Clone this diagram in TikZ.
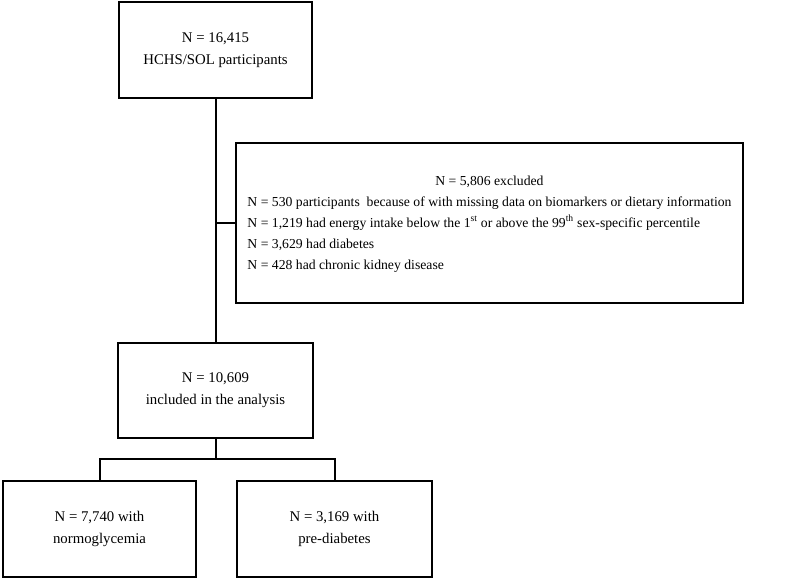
\documentclass[tikz,border=0pt]{standalone}
\usepackage{fontspec}
\setmainfont{Liberation Serif}
\begin{document}
\begin{tikzpicture}[x=1pt,y=-1pt,
  flowbox/.style={draw=black,line width=1.8pt,inner sep=0pt,align=center,
    font=\fontsize{14.8}{22}\selectfont},
  joinline/.style={draw=black,line width=2pt}]
\useasboundingbox (0,0) rectangle (800,587);
\node[flowbox,minimum width=193,minimum height=96] (top) at (215.5,50)
  {N = 16,415\\HCHS/SOL participants};
\node[flowbox,minimum width=507,minimum height=160] (excl) at (489.5,223)
  {\fontsize{13.7}{21}\selectfont\begin{tabular}{@{}l@{}}
   \multicolumn{1}{c}{N = 5,806 excluded}\\[0pt]
   N = 530 participants\ \ because of with missing data on biomarkers or dietary information\\
   N = 1,219 had energy intake below the 1\textsuperscript{st} or above the 99\textsuperscript{th} sex-specific percentile\\
   N = 3,629 had diabetes\\
   N = 428 had chronic kidney disease
  \end{tabular}};
\node[flowbox,minimum width=195,minimum height=95] (mid) at (215.5,390.5)
  {N = 10,609\\included in the analysis};
\node[flowbox,minimum width=193,minimum height=96] (left) at (99.5,529)
  {N = 7,740 with\\normoglycemia};
\node[flowbox,minimum width=195,minimum height=96] (right) at (334.5,529)
  {N = 3,169 with\\pre-diabetes};
\coordinate (branch) at ([yshift=-20pt]mid.south);
\draw[joinline,line width=2pt] (top.south) -- (mid.north);
\draw[joinline,line width=2pt] (top.south |- excl.west) -- (excl.west);
\draw[joinline,line width=2pt] (mid.south) -- (branch);
\draw[joinline,line width=2pt] (branch) -| (left.north);
\draw[joinline,line width=2pt] (branch) -| (right.north);
\end{tikzpicture}
\end{document}
